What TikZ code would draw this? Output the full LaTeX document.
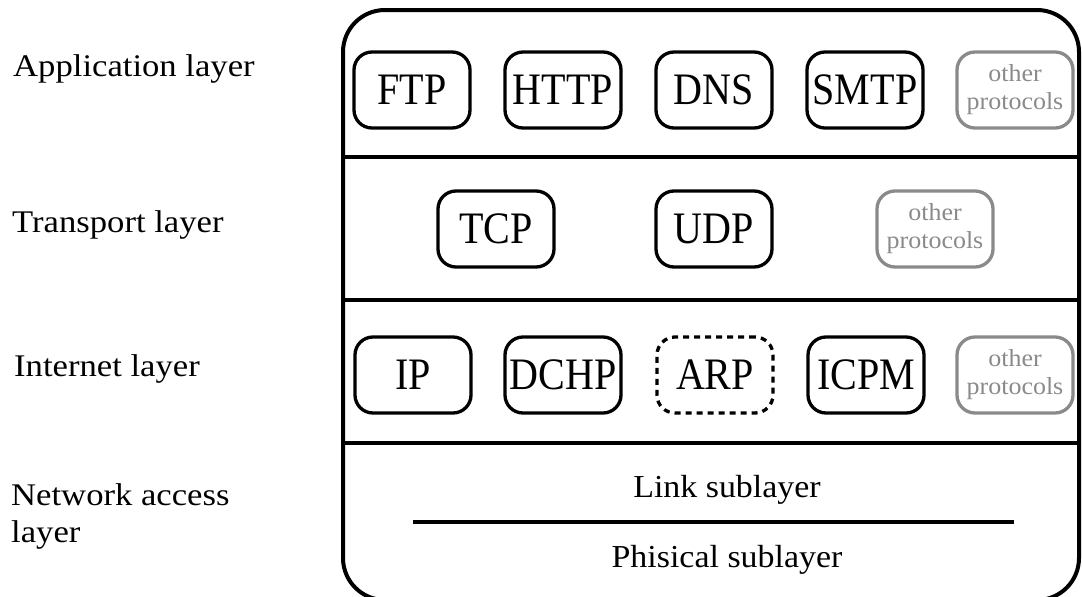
\documentclass[tikz,border=0pt]{standalone}
\usepackage{fontspec}
\setmainfont{Liberation Serif}
% widths tuned per text role
\newfontfamily\protofont[FakeStretch=0.89]{Liberation Serif}
\newfontfamily\layerfont[FakeStretch=1.1]{Liberation Serif}
\newfontfamily\subfont[FakeStretch=1.06]{Liberation Serif}
\newfontfamily\otherfont[FakeStretch=1.06]{Liberation Serif}
\definecolor{othergrey}{HTML}{8A8A8A}

\begin{document}
\begin{tikzpicture}[x=1pt,y=-1pt,
  frame/.style={line width=4pt, rounded corners=42pt},
  divider/.style={line width=4pt},
  proto/.style={draw, line width=3.3pt, rounded corners=18pt,
    minimum width=116pt, minimum height=76pt, inner sep=0pt,
    font=\protofont\fontsize{45}{45}\selectfont},
  protodash/.style={proto, dash pattern=on 6pt off 5pt},
  protoother/.style={proto, draw=othergrey, text=othergrey, align=center,
    font=\otherfont\fontsize{24.5}{28}\selectfont},
  layerlabel/.style={inner sep=0pt, align=left,
    font=\layerfont\fontsize{31.5}{37}\selectfont},
  sublabel/.style={inner sep=0pt, font=\subfont\fontsize{32}{37}\selectfont}
]
\useasboundingbox (0,0) rectangle (1082,597);

% outer stack frame (its bottom edge runs just past the page)
\begin{scope}
\clip (0,0) rectangle (1082,597);
\draw[frame] (343,10) rectangle (1079,600);
\end{scope}

% layer separators
\coordinate (s1w) at (343,157);  \coordinate (s1e) at (1079,157);
\coordinate (s2w) at (343,300);  \coordinate (s2e) at (1079,300);
\coordinate (s3w) at (343,443);  \coordinate (s3e) at (1079,443);
\draw[divider] (s1w) -- (s1e);
\draw[divider] (s2w) -- (s2e);
\draw[divider] (s3w) -- (s3e);

% layer names
\node[layerlabel, anchor=base west] (lapp) at (13,76) {Application layer};
\node[layerlabel, anchor=base west] (ltra) at (12,232) {Transport layer};
\node[layerlabel, anchor=base west] (lint) at (14,376) {Internet layer};
\node[layerlabel, anchor=base west] (lnet) at (11,542) {Network access\\layer};

% application layer
\node[proto] (ftp)  at (412,90) {FTP};
\node[proto] (http) at (563,90) {HTTP};
\node[proto] (dns)  at (714,90) {DNS};
\node[proto] (smtp) at (865,90) {SMTP};
\node[protoother] (aoth) at (1015,90) {other\\protocols};

% transport layer
\node[proto] (tcp) at (496,229) {TCP};
\node[proto] (udp) at (714,229) {UDP};
\node[protoother] (toth) at (935,229) {other\\protocols};

% internet layer
\node[proto] (ip)   at (413,375) {IP};
\node[proto] (dchp) at (563,375) {DCHP};
\node[protodash] (arp) at (715,375) {ARP};
\node[proto] (icpm) at (866,375) {ICPM};
\node[protoother] (ioth) at (1015,375) {other\\protocols};

% network access layer
\node[sublabel, anchor=base] (link) at (727,497) {Link sublayer};
\coordinate (subw) at (413,522);
\coordinate (sube) at (1014,522);
\draw[divider] (subw) -- (sube);
\node[sublabel, anchor=base] (phys) at (727,567) {Phisical sublayer};
\end{tikzpicture}
\end{document}
